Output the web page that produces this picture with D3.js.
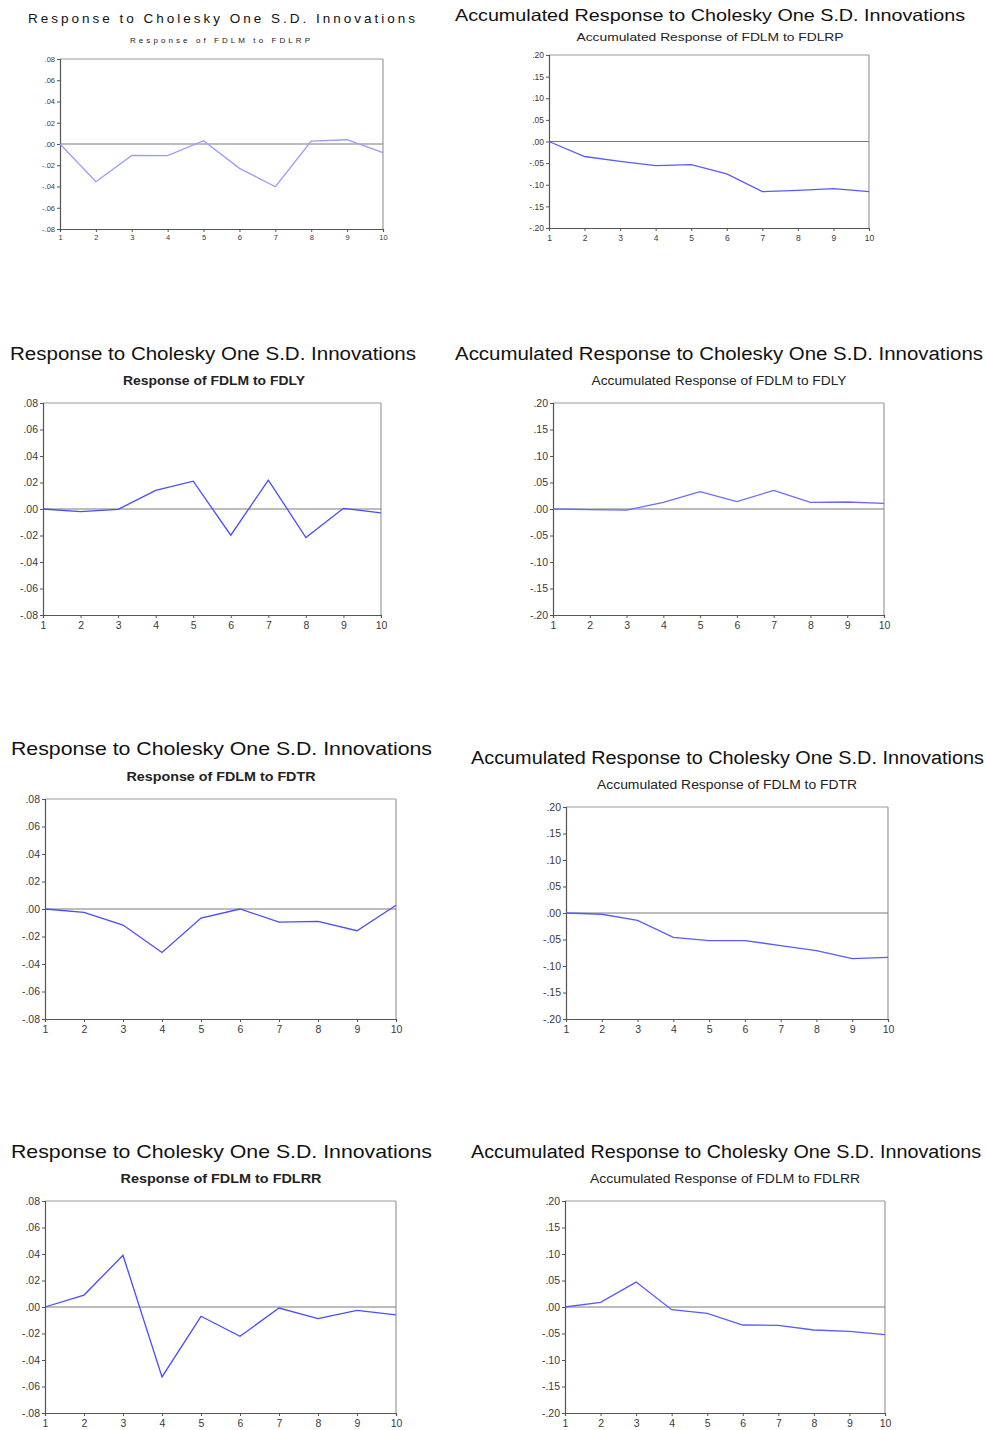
<!DOCTYPE html>
<html><head><meta charset="utf-8">
<script src="https://cdn.jsdelivr.net/npm/d3@7"></script>
<style>body{margin:0;background:#fff}svg{display:block}</style>
</head><body>
<script>
// ---- data ----
const periods = [1,2,3,4,5,6,7,8,9,10];
const respFDLRP = [0, -0.0355, -0.0107, -0.011, 0.0031, -0.0229, -0.0402, 0.0028, 0.004, -0.0082];
const accFDLRP  = [0, -0.0347, -0.046, -0.056, -0.0535, -0.075, -0.116, -0.113, -0.109, -0.116];
const respFDLY  = [0, -0.002, -0.0003, 0.014, 0.021, -0.0198, 0.0218, -0.0215, 0.0005, -0.003];
const accFDLY   = [0, -0.0013, -0.002, 0.0126, 0.0327, 0.0138, 0.0352, 0.0126, 0.0132, 0.0107];
const respFDTR  = [0, -0.0024, -0.0117, -0.0316, -0.0066, 0, -0.0095, -0.009, -0.0158, 0.0027];
const accFDTR   = [0, -0.0024, -0.0138, -0.046, -0.052, -0.052, -0.0616, -0.071, -0.086, -0.0836];
const respFDLRR = [0, 0.009, 0.039, -0.0528, -0.007, -0.0221, -0.0008, -0.0088, -0.0025, -0.006];
const accFDLRR  = [0, 0.0088, 0.047, -0.005, -0.012, -0.034, -0.0346, -0.0434, -0.046, -0.052];
const respTicks = [-0.08,-0.06,-0.04,-0.02,0,0.02,0.04,0.06,0.08];
const accTicks  = [-0.20,-0.15,-0.10,-0.05,0,0.05,0.10,0.15,0.20];
const titleResp = "Response to Cholesky One S.D. Innovations";
const titleAcc  = "Accumulated Response to Cholesky One S.D. Innovations";
const subtitles = [
  "Response of FDLM to FDLRP","Accumulated Response of FDLM to FDLRP",
  "Response of FDLM to FDLY","Accumulated Response of FDLM to FDLY",
  "Response of FDLM to FDTR","Accumulated Response of FDLM to FDTR",
  "Response of FDLM to FDLRR","Accumulated Response of FDLM to FDLRR"
];
const series = [respFDLRP, accFDLRP, respFDLY, accFDLY, respFDTR, accFDTR, respFDLRR, accFDLRR];

// ---- layout ----
const layout = [
  {x0:60,x1:383,y0:59,y1:229, tx0:28,tx1:415,ty:23,ts:13.5,tadj:'spacing', sy:43,ss:8,sw:'normal',sc:220,sl:180,sadj:'spacing', fs:7.5, col:'#9a9aff', acc:false},
  {x0:549,x1:869,y0:55,y1:228, tx0:455,tx1:965,ty:21,ts:16.5,tadj:'spacingAndGlyphs', sy:41,ss:11,sw:'normal',sc:710,sl:267,sadj:'spacingAndGlyphs', fs:8.5, col:'#5a5aff', acc:true},
  {x0:43,x1:381,y0:403,y1:615, tx0:10,tx1:416,ty:360,ts:18,tadj:'spacingAndGlyphs', sy:385,ss:12.5,sw:'bold',sc:214,sl:182,sadj:'spacingAndGlyphs', fs:10.5, col:'#4b4bff', acc:false},
  {x0:553,x1:884,y0:403,y1:615, tx0:455,tx1:983,ty:360,ts:18,tadj:'spacingAndGlyphs', sy:385,ss:12.5,sw:'normal',sc:719,sl:255,sadj:'spacingAndGlyphs', fs:10.5, col:'#6a6aff', acc:true},
  {x0:45,x1:396,y0:799,y1:1019, tx0:11,tx1:432,ty:755,ts:18.5,tadj:'spacingAndGlyphs', sy:781,ss:12.5,sw:'bold',sc:221,sl:189,sadj:'spacingAndGlyphs', fs:10.5, col:'#4b4bff', acc:false},
  {x0:566,x1:888,y0:807,y1:1019, tx0:471,tx1:984,ty:764,ts:18,tadj:'spacingAndGlyphs', sy:789,ss:12,sw:'normal',sc:727,sl:260,sadj:'spacingAndGlyphs', fs:10.5, col:'#5a5aff', acc:true},
  {x0:45,x1:396,y0:1201,y1:1413, tx0:11,tx1:432,ty:1158,ts:18.5,tadj:'spacingAndGlyphs', sy:1183,ss:12.5,sw:'bold',sc:221,sl:201,sadj:'spacingAndGlyphs', fs:10.5, col:'#4b4bff', acc:false},
  {x0:565,x1:885,y0:1201,y1:1413, tx0:471,tx1:981,ty:1158,ts:18,tadj:'spacingAndGlyphs', sy:1183,ss:12,sw:'normal',sc:725,sl:270,sadj:'spacingAndGlyphs', fs:10.5, col:'#5a5aff', acc:true}
];

const W = 986, H = 1430;
const svg = d3.select("body").append("svg").attr("width",W).attr("height",H)
  .style("font-family","'Liberation Sans', Arial, sans-serif");

const fmt = d => {
  if (Math.abs(d) < 1e-9) return ".00";
  const s = d3.format(".2f")(Math.abs(d)).replace(/^0/,"");
  return (d<0?"-":"") + s;
};

layout.forEach((L,i) => {
  const g = svg.append("g");
  const ticks = L.acc ? accTicks : respTicks;
  const dom = L.acc ? [-0.20,0.20] : [-0.08,0.08];
  const x = d3.scaleLinear().domain([1,10]).range([L.x0,L.x1]);
  const y = d3.scaleLinear().domain(dom).range([L.y1,L.y0]);

  // titles
  g.append("text").attr("x",L.tx0).attr("y",L.ty)
    .attr("textLength",L.tx1-L.tx0).attr("lengthAdjust",L.tadj)
    .attr("font-size",L.ts).attr("fill","#111").text(i%2===0?titleResp:titleAcc);
  g.append("text").attr("x",L.sc - L.sl/2).attr("y",L.sy)
    .attr("textLength",L.sl).attr("lengthAdjust",L.sadj)
    .attr("font-size",L.ss).attr("font-weight",L.sw).attr("fill","#222").text(subtitles[i]);

  // frame top/right
  g.append("line").attr("x1",L.x0).attr("x2",L.x1).attr("y1",L.y0).attr("y2",L.y0).attr("stroke","#9a9a9a").attr("stroke-width",1);
  g.append("line").attr("x1",L.x1).attr("x2",L.x1).attr("y1",L.y0).attr("y2",L.y1).attr("stroke","#9a9a9a").attr("stroke-width",1.2);

  // zero line
  g.append("line").attr("x1",L.x0).attr("x2",L.x1).attr("y1",y(0)).attr("y2",y(0)).attr("stroke","#7a7a7a").attr("stroke-width",1);

  // axes
  const ya = d3.axisLeft(y).tickValues(ticks).tickFormat(fmt).tickSize(3).tickPadding(2);
  const yg = g.append("g").attr("transform",`translate(${L.x0},0)`).call(ya);
  const xa = d3.axisBottom(x).tickValues(periods).tickFormat(d3.format("d")).tickSize(3).tickPadding(L.acc||i>1?4:3);
  const xg = g.append("g").attr("transform",`translate(0,${L.y1})`).call(xa);
  [yg,xg].forEach(a => {
    a.select(".domain").attr("stroke","#555").attr("stroke-width",1.2);
    a.selectAll(".tick line").attr("stroke","#555");
    a.selectAll(".tick text").attr("fill","#3a3a3a").attr("font-size",L.fs)
      .attr("font-family","'Liberation Sans', Arial, sans-serif");
  });

  // series line
  const line = d3.line().x((d,k)=>x(periods[k])).y(d=>y(d));
  g.append("path").datum(series[i]).attr("d",line).attr("fill","none")
    .attr("stroke",L.col).attr("stroke-width",1.3);
});
</script>
</body></html>
